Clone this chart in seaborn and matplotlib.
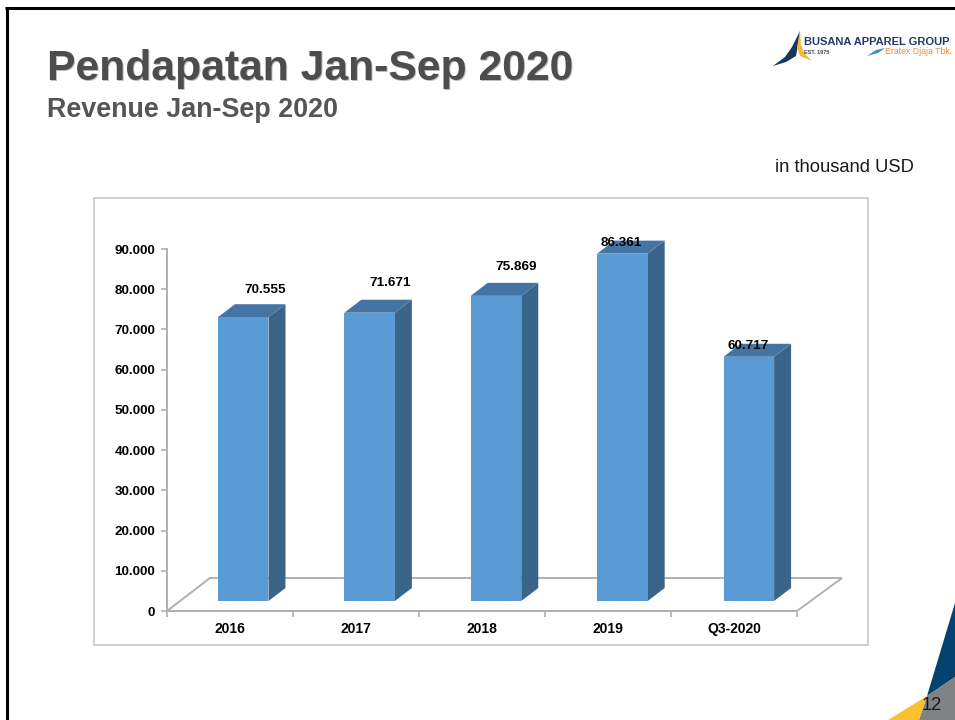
import matplotlib
matplotlib.use("Agg")
import matplotlib.pyplot as plt
import pandas as pd
import seaborn as sns
from matplotlib.patches import Polygon, Rectangle
from matplotlib.transforms import IdentityTransform

categories = ["2016", "2017", "2018", "2019", "Q3-2020"]
revenue = [70555, 71671, 75869, 86361, 60717]
value_labels = ["70.555", "71.671", "75.869", "86.361", "60.717"]
y_ticks = [0, 10000, 20000, 30000, 40000, 50000, 60000, 70000, 80000, 90000]
y_tick_labels = ["0", "10.000", "20.000", "30.000", "40.000", "50.000", "60.000", "70.000", "80.000", "90.000"]

W, H = 955, 720
FRONT = "#5b9bd5"
TOP = "#4474a3"
SIDE = "#3b6489"
GRID = "#b0b0b0"

sns.set_theme(style="white")
plt.rcParams["font.family"] = ["Liberation Sans", "DejaVu Sans"]


def axes_px(fig, left, top, right, bottom):
    return fig.add_axes([left / W, 1 - bottom / H, (right - left) / W, (bottom - top) / H])


def add_px(page, points, **kws):
    page.add_patch(Polygon(points, closed=True, **kws))


fig = plt.figure(figsize=(W / 100, H / 100), dpi=100)

# whole slide in pixel coordinates for the furniture
page = fig.add_axes([0, 0, 1, 1])
page.set_xlim(0, W)
page.set_ylim(H, 0)
page.axis("off")

page.plot([5, W], [8, 8], color="black", lw=2.2, solid_capstyle="butt")
page.plot([6.5, 6.5], [7, H], color="black", lw=2.2, solid_capstyle="butt")

for offset, colour in [((1, 1), "#bdbdbd"), ((0, 0), "#4d4d4d")]:
    page.text(47 + offset[0], 69 + offset[1], "Pendapatan Jan-Sep 2020", fontsize=30.7, fontweight="bold",
              color=colour, va="center")
page.text(47, 110, "Revenue Jan-Sep 2020", fontsize=19.35, fontweight="bold", color="#555555", va="center")
page.text(775, 167, "in thousand USD", fontsize=13.2, color="#1a1a1a", va="center")

page.add_patch(Rectangle((94, 198), 774, 447, facecolor="white", edgecolor="#c4c4c4", lw=1.1))

# floor of the 3D chart
add_px(page, [(167, 611), (210, 578), (842, 578), (797, 611)], facecolor="white", edgecolor=GRID, lw=1.4)

# logo
add_px(page, [(773, 66), (785, 57), (792, 47), (800, 31), (798, 45), (796, 56), (786, 62)],
       facecolor="#17375e", edgecolor="none")
add_px(page, [(800, 31), (797, 47), (800, 56), (812, 61), (804, 53), (801, 44)], facecolor="#f4b93e", edgecolor="none")
page.text(804, 42, "BUSANA APPAREL GROUP", fontsize=8.05, fontweight="bold", color="#1f3a68", va="center")
page.text(804, 52, "EST. 1975", fontsize=4, fontweight="bold", color="#444444", va="center")
add_px(page, [(867, 56), (876, 50), (885, 48), (878, 53)], facecolor="#3f8fd0", edgecolor="none")
page.text(885, 52, "Eratex Djaja Tbk.", fontsize=6.3, color="#ee8b3a", va="center")

# corner decoration
add_px(page, [(927, 696), (955, 603), (955, 677)], facecolor="#05426f", edgecolor="none")
add_px(page, [(927, 696), (955, 677), (955, 720), (919, 720)], facecolor="#808285", edgecolor="none")
add_px(page, [(927, 696), (919, 720), (888, 720)], facecolor="#fbc02d", edgecolor="none")
page.text(932, 706, "12", fontsize=13.2, color="#1a1a1a", ha="center", va="center")

# axis frame
ax = axes_px(fig, 167, 249, 797, 611)
ax.patch.set_alpha(0)
df = pd.DataFrame({"category": categories, "revenue": revenue})
ax.set_xlim(-0.5, len(categories) - 0.5)
ax.set_ylim(0, 90000)
ax.set_yticks(y_ticks)
ax.set_yticklabels(y_tick_labels)
ax.set_xticks([i - 0.5 for i in range(len(categories) + 1)], minor=True)
ax.set_xticks(range(len(categories)))
ax.set_xticklabels(categories, va="baseline")
ax.tick_params(axis="x", which="major", length=0, pad=15.6)
ax.tick_params(axis="x", which="minor", length=4, color=GRID, width=1.2, bottom=True)
ax.tick_params(axis="y", length=4, color=GRID, width=1.2, left=True, pad=4.4)
for label in ax.get_yticklabels():
    label.set_fontsize(9.7)
for label in ax.get_xticklabels():
    label.set_fontsize(10)
for label in ax.get_xticklabels() + ax.get_yticklabels():
    label.set_fontweight("bold")
    label.set_color("black")
sns.despine(ax=ax)
for side in ["left", "bottom"]:
    ax.spines[side].set_color(GRID)
    ax.spines[side].set_linewidth(1.4)

# bars sit on the raised floor, 13 px right and 10 px up of the axis
bar_ax = axes_px(fig, 180, 239, 812, 601)
bar_ax.patch.set_alpha(0)
sns.barplot(data=df, x="category", y="revenue", color=FRONT, saturation=1, width=0.4, linewidth=0, ax=bar_ax, zorder=3)
bar_ax.set_xlim(-0.5, len(categories) - 0.5)
bar_ax.set_ylim(0, 90000)
bar_ax.axis("off")

fig.canvas.draw()
DX, DY = 17, 13
label_shift = [(22, 27), (21, 30), (20, 29), (-1, 11), (-1, 11)]
for bar, text, shift in zip(list(bar_ax.patches), value_labels, label_shift):
    x0, y0 = bar_ax.transData.transform((bar.get_x(), 0))
    x1, y1 = bar_ax.transData.transform((bar.get_x() + bar.get_width(), bar.get_height()))
    side = [(x1, y0), (x1 + DX, y0 + DY), (x1 + DX, y1 + DY), (x1, y1)]
    top = [(x0, y1), (x1, y1), (x1 + DX, y1 + DY), (x0 + DX, y1 + DY)]
    bar_ax.add_patch(Polygon(side, closed=True, facecolor=SIDE, edgecolor="none", transform=IdentityTransform(), zorder=2))
    bar_ax.add_patch(Polygon(top, closed=True, facecolor=TOP, edgecolor="none", transform=IdentityTransform(), zorder=2))
    bar_ax.annotate(text, xy=(bar.get_x() + bar.get_width() / 2, bar.get_height()), xytext=shift,
                    textcoords="offset pixels", ha="center", va="center", fontsize=9.7, fontweight="bold",
                    color="black", zorder=5)

fig.savefig("out.png", dpi=100)
